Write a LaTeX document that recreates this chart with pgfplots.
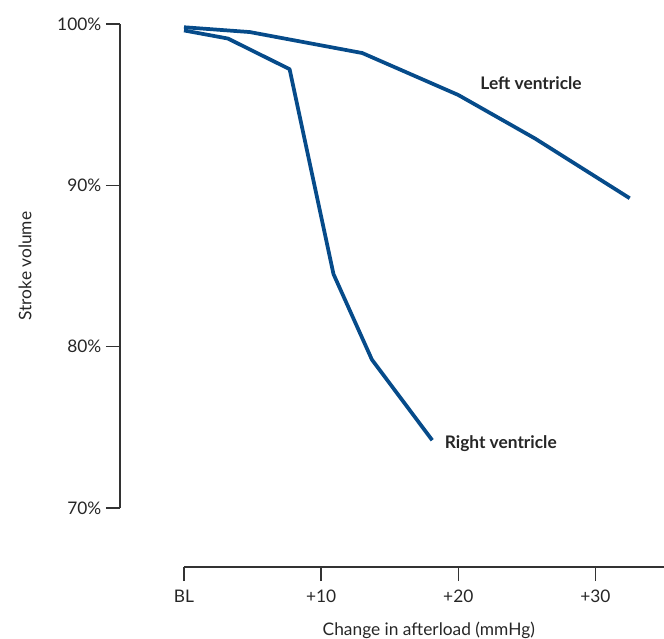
\documentclass[border=0pt]{standalone}
\usepackage{fontspec}
\setmainfont{Lato}
\usepackage{pgfplots}
\pgfplotsset{compat=1.18}
\definecolor{lineblue}{HTML}{064B8A}
\definecolor{axisgray}{HTML}{333333}
\definecolor{textgray}{HTML}{262626}

\begin{document}
\begin{tikzpicture}
	\begin{axis}[
		scale only axis,
		width = 360pt,
		height = 363pt,
		xmin = 0, xmax = 35,
		ymin = 70, ymax = 100,
		axis x line* = bottom,
		axis y line* = left,
		axis x line shift = 44.25pt,
		axis y line shift = 48pt,
		axis line style = {axisgray, line width=1.1pt, -},
		xtick = {0,10,20,30},
		xticklabels = {BL, +10, +20, +30},
		ytick = {70,80,90,100},
		yticklabels = {70\%, 80\%, 90\%, 100\%},
		tick align = outside,
		major tick length = 10.5pt,
		tick style = {axisgray, line width=1.1pt},
		ticklabel style = {font=\fontsize{13}{15}\selectfont, text=textgray},
		xticklabel style = {yshift=-3pt},
		xlabel = {Change in afterload (mmHg)},
		ylabel = {Stroke volume},
		xlabel style = {at={(rel axis cs:0.51,-0.252)}, anchor=center,
			font=\fontsize{13}{15}\selectfont, text=textgray},
		ylabel style = {at={(rel axis cs:-0.331,0.5)}, anchor=center, rotate=0,
			font=\fontsize{13}{15}\selectfont, text=textgray},
		clip = false,
	]
	% left ventricle
	\addplot[lineblue, line width=2.8pt, line join=round, mark=none]
		coordinates {(0,99.8)(4.8,99.5)(13.0,98.2)(20.0,95.6)(25.6,92.9)(32.5,89.2)};
	% right ventricle
	\addplot[lineblue, line width=2.8pt, line join=round, mark=none]
		coordinates {(0,99.6)(3.2,99.1)(7.7,97.2)(10.9,84.5)(13.7,79.2)(18.1,74.2)};

	\node[anchor=west, inner sep=0pt, font=\bfseries\fontsize{13}{15}\selectfont, text=textgray]
		at (axis cs:21.6,96.34) {Left ventricle};
	\node[anchor=west, inner sep=0pt, font=\bfseries\fontsize{13}{15}\selectfont, text=textgray]
		at (axis cs:19.0,74.02) {Right ventricle};
	\end{axis}
	\pgfresetboundingbox
	\path ([xshift=-138pt,yshift=-98.25pt]current axis.south west)
		rectangle ([yshift=18pt]current axis.north east);
\end{tikzpicture}
\end{document}
